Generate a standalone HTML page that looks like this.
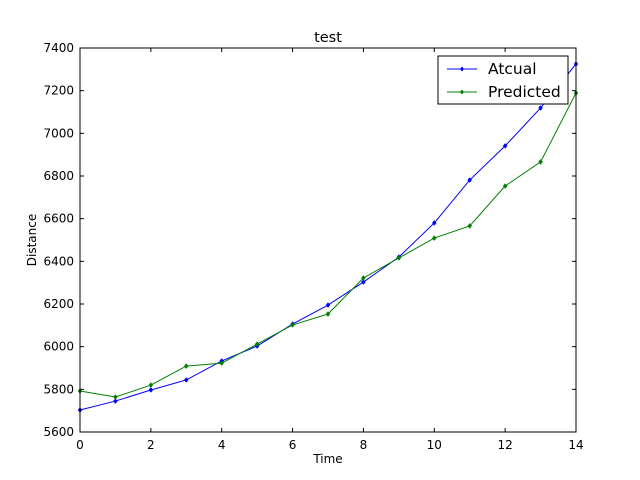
<!DOCTYPE html>
<html><head><meta charset="utf-8"><style>
body{margin:0;background:#fff;}
svg{display:block;font-family:"DejaVu Sans","Liberation Sans",sans-serif;}
</style></head><body>
<svg id="chart" width="640" height="480">
<rect width="640" height="480" fill="#fff"/>
</svg>
<script>
const xValues=[0,1,2,3,4,5,6,7,8,9,10,11,12,13,14];
const actualValues=[5703,5745,5797,5844,5933,6003,6106,6195,6303,6420,6580,6781,6941,7119,7325];
const predictedValues=[5792,5764,5820,5909,5923,6012,6102,6153,6322,6416,6509,6566,6753,6866,7189];
const xTicks=[0,2,4,6,8,10,12,14];
const yTicks=[5600,5800,6000,6200,6400,6600,6800,7000,7200,7400];
const seriesNames=["Atcual","Predicted"];
const L=80,R=576,T=48,B=432,xmin=0,xmax=14,ymin=5600,ymax=7400;
const sx=v=>L+(v-xmin)/(xmax-xmin)*(R-L);
const sy=v=>B-(v-ymin)/(ymax-ymin)*(B-T);
const svg=document.getElementById('chart');
const NS='http://www.w3.org/2000/svg';
function mk(t,a,p){const e=document.createElementNS(NS,t);for(const k in a)e.setAttribute(k,a[k]);(p||svg).appendChild(e);return e;}
xTicks.forEach(v=>{const x=sx(v);
 mk('line',{x1:x,y1:B,x2:x,y2:B-4,stroke:'#000'});mk('line',{x1:x,y1:T,x2:x,y2:T+4,stroke:'#000'});
 const t=mk('text',{x:x,y:B+17,'text-anchor':'middle','font-size':12});t.textContent=v;
 
 });
yTicks.forEach(v=>{const y=sy(v);
 mk('line',{x1:L,y1:y,x2:L+4,y2:y,stroke:'#000'});mk('line',{x1:R,y1:y,x2:R-4,y2:y,stroke:'#000'});
 const t=mk('text',{x:L-6,y:y+4,'text-anchor':'end','font-size':12});t.textContent=v;
 
 });
function series(vals,color,name){
 const g=mk('g',{});
 
 
 mk('polyline',{points:vals.map((v,i)=>sx(xValues[i])+','+sy(v)).join(' '),fill:'none',stroke:color,'stroke-width':1},g);
 vals.forEach((v,i)=>{const x=sx(xValues[i]),y=sy(v);
  mk('polygon',{points:`${x},${y-2.5} ${x+2},${y} ${x},${y+2.5} ${x-2},${y}`,fill:color,stroke:color,'stroke-width':0.5},g);});
}
series(actualValues,'#0000ff','actual-series');
series(predictedValues,'#008000','predicted-series');
const frame=mk('rect',{x:L,y:T,width:R-L,height:B-T,fill:'none',stroke:'#000'});


const title=mk('text',{x:328,y:42,'text-anchor':'middle','font-size':14.5});title.textContent='test';


const xl=mk('text',{x:328,y:463,'text-anchor':'middle','font-size':12});xl.textContent='Time';


const yl=mk('text',{x:36,y:240,'text-anchor':'middle','font-size':12,transform:'rotate(-90 36 240)'});yl.textContent='Distance';


const lg=mk('g',{});


mk('rect',{x:438,y:56,width:130,height:48,fill:'#fff',stroke:'#000'},lg);
['#0000ff','#008000'].forEach((c,i)=>{const y=69+i*23;
 const e=mk('g',{},lg);
 
 
 mk('line',{x1:447,y1:y,x2:477,y2:y,stroke:c},e);
 mk('polygon',{points:`462,${y-2.5} 464,${y} 462,${y+2.5} 460,${y}`,fill:c},e);
 const t=mk('text',{x:488,y:y+5,'font-size':15.5},e);t.textContent=seriesNames[i];});
</script>
</body></html>
